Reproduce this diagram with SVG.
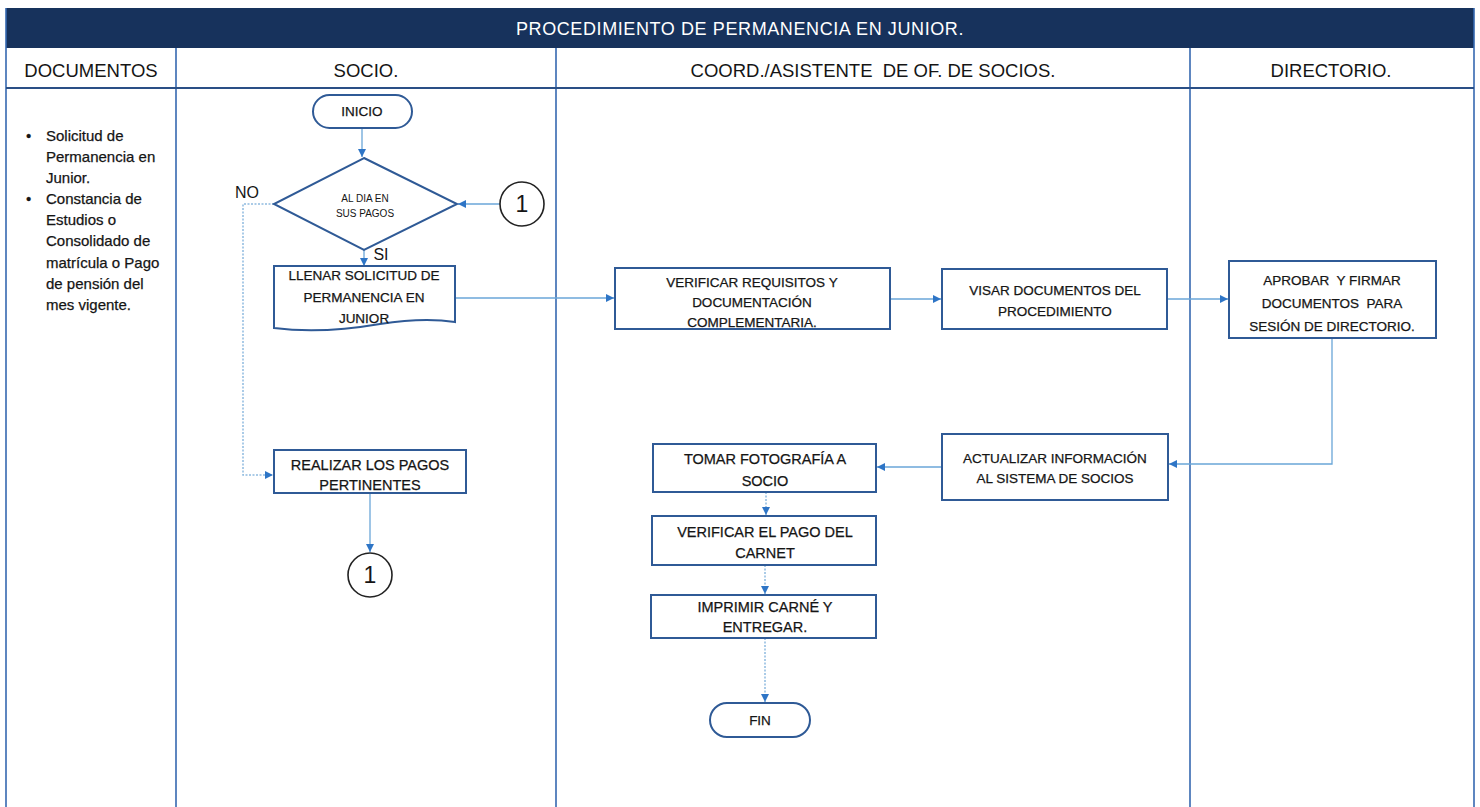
<svg xmlns="http://www.w3.org/2000/svg" width="1480" height="807" viewBox="0 0 1480 807">
<style>
text{font-family:"Liberation Sans",Arial,sans-serif;fill:#151515;text-anchor:middle;white-space:pre}
.hd{font-size:18.5px}
.ttl{font-size:18px;fill:#ffffff;letter-spacing:0.6px}
.doc{font-size:15px;text-anchor:start;stroke:#151515;stroke-width:0.25}
.bx{fill:#ffffff;stroke:#2f5a96;stroke-width:2}
.t{font-size:13.5px;stroke:#151515;stroke-width:0.25}
.tb{font-size:14.5px;stroke:#151515;stroke-width:0.25}
.sm{font-size:10px}
.lane{stroke:#3568b0;stroke-width:1.6;fill:none}
.cn{stroke:#6aa6d8;stroke-width:1.3;fill:none}
.dt{stroke:#8fbbe0;stroke-width:1.5;fill:none;stroke-dasharray:2 1.5}
.circ{fill:#ffffff;stroke:#222;stroke-width:1.6}
.num{font-size:23px}
</style>
<defs>
<marker id="ah" viewBox="0 0 10 10" refX="10" refY="5" markerWidth="8" markerHeight="8" markerUnits="userSpaceOnUse" orient="auto">
<path d="M0,0 L10,5 L0,10 Z" fill="#2e75c6"/>
</marker>
</defs>
<rect width="1480" height="807" fill="#ffffff"/>
<g id="frame">
<rect x="6" y="8" width="1468" height="40" fill="#17325c"/>
<text class="ttl" x="740" y="35">PROCEDIMIENTO DE PERMANENCIA EN JUNIOR.</text>
<line class="lane" x1="6" y1="8" x2="6" y2="807"/>
<line class="lane" x1="1474" y1="8" x2="1474" y2="807"/>
<line class="lane" x1="176" y1="48" x2="176" y2="807"/>
<line class="lane" x1="556" y1="48" x2="556" y2="807"/>
<line class="lane" x1="1190" y1="48" x2="1190" y2="807"/>
<line x1="6" y1="88" x2="1474" y2="88" stroke="#2a4f86" stroke-width="2.2"/>
<text class="hd" x="91" y="77">DOCUMENTOS</text>
<text class="hd" x="366" y="77">SOCIO.</text>
<text class="hd" x="873" y="77">COORD./ASISTENTE&#160; DE OF. DE SOCIOS.</text>
<text class="hd" x="1331" y="77">DIRECTORIO.</text>
</g>
<g id="documentos">
<text class="doc" x="26" y="141">•</text>
<text class="doc" x="46" y="141">Solicitud de</text>
<text class="doc" x="46" y="162">Permanencia en</text>
<text class="doc" x="46" y="183">Junior.</text>
<text class="doc" x="26" y="204">•</text>
<text class="doc" x="46" y="204">Constancia de</text>
<text class="doc" x="46" y="225">Estudios o</text>
<text class="doc" x="46" y="246">Consolidado de</text>
<text class="doc" x="46" y="268">matrícula o Pago</text>
<text class="doc" x="46" y="289">de pensión del</text>
<text class="doc" x="46" y="310">mes vigente.</text>
</g>
<g id="connectors">
<path class="cn" d="M362,128 V157" marker-end="url(#ah)"/>
<path class="cn" d="M500,204 H458" marker-end="url(#ah)"/>
<path class="dt" d="M274,204 H243 V475 H273" marker-end="url(#ah)"/>
<path class="cn" d="M364,250 V266" marker-end="url(#ah)"/>
<path class="cn" d="M455,298 H614" marker-end="url(#ah)"/>
<path class="cn" d="M890,299 H941" marker-end="url(#ah)"/>
<path class="cn" d="M1167,299 H1228" marker-end="url(#ah)"/>
<path class="cn" d="M1332,338 V464 H1169" marker-end="url(#ah)"/>
<path class="cn" d="M942,467 H877" marker-end="url(#ah)"/>
<path class="dt" d="M766,492 V515" marker-end="url(#ah)"/>
<path class="dt" d="M765,565 V594" marker-end="url(#ah)"/>
<path class="dt" d="M765,638 V702" marker-end="url(#ah)"/>
<path class="cn" d="M370,493 V552" marker-end="url(#ah)"/>
<text x="247" y="198" font-size="16">NO</text>
<text x="381" y="260" font-size="16">SI</text>
</g>
<g id="inicio">
<rect class="bx" x="313" y="95" width="99" height="33" rx="16.5"/>
<text class="t" x="362" y="116">INICIO</text>
</g>
<g id="al-dia">
<path class="bx" d="M364,158 L457,204 L364,250 L274,204 Z"/>
<text class="sm" x="365" y="202">AL DIA EN</text>
<text class="sm" x="365" y="217">SUS PAGOS</text>
</g>
<g id="con1-a">
<circle class="circ" cx="522" cy="204" r="22"/>
<text class="num" x="522" y="212">1</text>
</g>
<g id="llenar">
<path class="bx" d="M274,266 H455 V322 C430,318 405,320 380,324 C345,330 305,332 274,328 Z"/>
<text class="t" x="364" y="280">LLENAR SOLICITUD DE</text>
<text class="t" x="364" y="302">PERMANENCIA EN</text>
<text class="t" x="364" y="323">JUNIOR</text>
</g>
<g id="realizar">
<rect class="bx" x="274" y="450" width="192" height="43"/>
<text class="tb" x="370" y="470">REALIZAR LOS PAGOS</text>
<text class="tb" x="370" y="490">PERTINENTES</text>
</g>
<g id="con1-b">
<circle class="circ" cx="370" cy="575" r="22"/>
<text class="num" x="370" y="583">1</text>
</g>
<g id="verificar-req">
<rect class="bx" x="615" y="268" width="275" height="61"/>
<text class="t" x="752" y="287">VERIFICAR REQUISITOS Y</text>
<text class="t" x="752" y="307">DOCUMENTACIÓN</text>
<text class="t" x="752" y="327">COMPLEMENTARIA.</text>
</g>
<g id="visar">
<rect class="bx" x="942" y="269" width="225" height="60"/>
<text class="t" x="1055" y="295">VISAR DOCUMENTOS DEL</text>
<text class="t" x="1055" y="316">PROCEDIMIENTO</text>
</g>
<g id="aprobar">
<rect class="bx" x="1229" y="261" width="207" height="77"/>
<text class="t" x="1332" y="285">APROBAR&#160; Y FIRMAR</text>
<text class="t" x="1332" y="308">DOCUMENTOS&#160; PARA</text>
<text class="t" x="1332" y="331">SESIÓN DE DIRECTORIO.</text>
</g>
<g id="actualizar">
<rect class="bx" x="942" y="434" width="226" height="66"/>
<text class="t" x="1055" y="463">ACTUALIZAR INFORMACIÓN</text>
<text class="t" x="1055" y="483">AL SISTEMA DE SOCIOS</text>
</g>
<g id="tomar">
<rect class="bx" x="653" y="444" width="223" height="48"/>
<text class="tb" x="765" y="464">TOMAR FOTOGRAFÍA A</text>
<text class="tb" x="765" y="486">SOCIO</text>
</g>
<g id="verificar-pago">
<rect class="bx" x="652" y="516" width="224" height="49"/>
<text class="tb" x="765" y="537">VERIFICAR EL PAGO DEL</text>
<text class="tb" x="765" y="558">CARNET</text>
</g>
<g id="imprimir">
<rect class="bx" x="651" y="595" width="225" height="43"/>
<text class="tb" x="765" y="612">IMPRIMIR CARNÉ Y</text>
<text class="tb" x="765" y="632">ENTREGAR.</text>
</g>
<g id="fin">
<rect class="bx" x="710" y="703" width="100" height="34" rx="17"/>
<text class="t" x="760" y="725">FIN</text>
</g>
</svg>
